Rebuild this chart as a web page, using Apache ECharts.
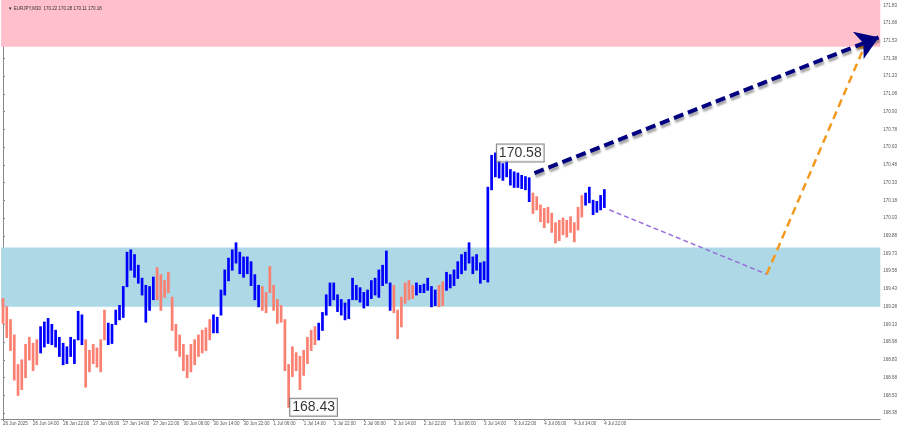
<!DOCTYPE html>
<html><head><meta charset="utf-8">
<script src="https://cdn.jsdelivr.net/npm/echarts@6/dist/echarts.min.js"></script>
<style>html,body{margin:0;padding:0;background:#fff}#c{width:900px;height:430px}</style>
</head><body><div id="c"></div>
<script>
const chartTitle = '\u25BC EURJPY,M30  170.22 170.28 170.11 170.18';
const xLabels = ['26 Jun 2025','26 Jun 14:00','26 Jun 22:00','27 Jun 06:00','27 Jun 14:00','27 Jun 22:00','30 Jun 06:00','30 Jun 14:00','30 Jun 22:00','1 Jul 06:00','1 Jul 14:00','1 Jul 22:00','2 Jul 06:00','2 Jul 14:00','2 Jul 22:00','3 Jul 06:00','3 Jul 14:00','3 Jul 22:00','4 Jul 06:00','4 Jul 14:00','4 Jul 22:00'];
const barsPerLabel = 8;
const yTicks = [168.38,168.53,168.68,168.83,168.98,169.13,169.28,169.43,169.58,169.73,169.88,170.03,170.18,170.33,170.48,170.63,170.78,170.93,171.08,171.23,171.38,171.53,171.68,171.83];
const highs = [169.35,169.28,169.17,169.04,168.79,168.83,168.96,169.02,168.97,169.00,
169.11,169.15,169.18,169.13,169.08,169.02,168.97,168.94,169.02,169.00,
169.24,169.21,169.00,168.91,168.96,168.93,169.00,169.25,169.14,169.13,
169.25,169.29,169.45,169.74,169.76,169.72,169.63,169.52,169.46,169.45,
169.53,169.61,169.55,169.50,169.57,169.36,169.13,169.04,168.96,168.87,
168.96,169.00,169.04,169.08,169.10,169.17,169.21,169.19,169.42,169.59,
169.69,169.76,169.82,169.74,169.70,169.70,169.66,169.55,169.46,169.45,
169.40,169.62,169.46,169.34,169.29,169.17,168.79,168.94,168.89,168.86,
168.91,169.02,169.08,169.11,169.14,169.23,169.38,169.48,169.48,169.38,
169.34,169.31,169.34,169.52,169.46,169.44,169.40,169.42,169.50,169.52,
169.59,169.63,169.75,169.48,169.46,169.25,169.36,169.48,169.50,169.46,
169.48,169.46,169.47,169.52,169.45,169.42,169.46,169.49,169.57,169.55,
169.59,169.66,169.72,169.74,169.82,169.70,169.72,169.65,169.66,170.29,
170.56,170.58,170.52,170.49,170.52,170.44,170.42,170.41,170.39,170.38,
170.37,170.24,170.21,170.14,170.11,170.12,170.07,169.99,170.01,170.03,
170.01,170.04,169.99,170.12,170.22,170.24,170.29,170.18,170.17,170.22,
170.27];
const lows = [169.14,169.02,168.91,168.66,168.53,168.58,168.68,168.83,168.74,168.79,
168.89,168.94,168.97,168.96,168.94,168.86,168.79,168.80,168.86,168.80,
169.00,168.96,168.60,168.73,168.80,168.77,168.73,169.00,168.96,168.97,
169.13,169.17,169.19,169.45,169.59,169.53,169.48,169.38,169.15,169.25,
169.34,169.34,169.25,169.36,169.40,169.08,168.91,168.86,168.74,168.68,
168.73,168.79,168.86,168.89,168.91,169.00,169.06,169.06,169.21,169.38,
169.50,169.59,169.65,169.56,169.53,169.56,169.46,169.34,169.28,169.25,
169.23,169.40,169.25,169.14,169.15,168.74,168.43,168.69,168.74,168.58,
168.70,168.80,168.91,168.96,169.00,169.08,169.21,169.29,169.34,169.24,
169.21,169.17,169.18,169.34,169.34,169.32,169.27,169.29,169.35,169.38,
169.36,169.46,169.48,169.25,169.23,169.01,169.11,169.31,169.34,169.35,
169.38,169.40,169.40,169.42,169.28,169.29,169.28,169.29,169.42,169.44,
169.46,169.52,169.56,169.59,169.65,169.56,169.59,169.48,169.51,169.49,
170.27,170.38,170.37,170.35,170.38,170.31,170.29,170.29,170.28,170.27,
170.17,170.07,170.10,170.00,169.95,169.99,169.91,169.82,169.84,169.89,
169.87,169.91,169.83,169.93,170.04,170.14,170.16,170.06,170.08,170.10,
170.12];
// wave segments: [first bar index, direction]
const waves = [[0,'down'],[10,'up'],[22,'down'],[28,'up'],[41,'down'],[56,'up'],[69,'down'],[84,'up'],[104,'down'],[110,'up'],[116,'down'],[118,'up'],[141,'down'],[155,'up']];
const resistanceZone = [171.48, 171.875];
const supportZone = [169.28, 169.78];
const extremes = [[131, 170.58], [76, 168.43]];
const currentPrice = 170.18;
const mainArrow = [[141.4, 170.41], [233.0, 171.56]];
const pullbackPath = [[161.3, 170.10], [203.2, 169.555]];
const rallyPath = [[203.2, 169.555], [229.7, 171.52]];

const UP = '#0000ff', DOWN = '#fa8072';
function dirAt(k){ let d = 'down'; for (const w of waves) { if (k >= w[0]) d = w[1]; } return d === 'up' ? 1 : 0; }
const barData = highs.map((h, k) => [k, h, lows[k], dirAt(k)]);
const xTickIdx = xLabels.map((_, k) => k * barsPerLabel);
const FONT = 'Liberation Sans';

const chart = echarts.init(document.getElementById('c'), null, {renderer: 'canvas'});
chart.setOption({
  animation: false,
  backgroundColor: '#fff',
  title: {text: chartTitle, left: 3, top: 1, textStyle: {fontSize: 4.5, fontWeight: 'normal', color: '#333', fontFamily: FONT}},
  grid: {left: 0, right: 18, top: 0, bottom: 11, containLabel: false},
  xAxis: {
    type: 'value', min: -0.5, max: 233.4,
    splitLine: {show: false},
    axisLine: {show: true, lineStyle: {color: '#888', width: 1}},
    axisTick: {show: true, customValues: xTickIdx, length: 2, lineStyle: {color: '#888'}},
    axisLabel: {customValues: xTickIdx, formatter: v => xLabels[Math.round(v / barsPerLabel)] || '', align: 'left', fontSize: 4.5, color: '#555', margin: 2, fontFamily: FONT}
  },
  yAxis: {
    type: 'value', position: 'right', min: 168.33, max: 171.875, scale: true,
    splitLine: {show: false},
    axisLine: {show: true, lineStyle: {color: '#888', width: 1}},
    axisTick: {show: true, customValues: yTicks, length: 2, lineStyle: {color: '#888'}},
    axisLabel: {customValues: yTicks, formatter: v => v.toFixed(2), fontSize: 4.5, color: '#555', margin: 3, fontFamily: FONT}
  },
  series: [
    {
      type: 'line', data: [], z: 0, silent: true,
      markArea: {silent: true, data: [
        [{yAxis: resistanceZone[0], itemStyle: {color: '#ffc0cb'}}, {yAxis: resistanceZone[1]}],
        [{yAxis: supportZone[0], itemStyle: {color: '#add8e6'}}, {yAxis: supportZone[1]}]
      ]}
    },
    {
      type: 'custom', z: 3, silent: true,
      data: barData,
      encode: {x: 0, y: [1, 2]},
      renderItem: (params, api) => {
        const i = api.value(0);
        const top = api.coord([i, api.value(1)]);
        const bot = api.coord([i, api.value(2)]);
        return {type: 'line', shape: {x1: top[0], y1: top[1] - 0.5, x2: bot[0], y2: bot[1] + 0.5},
          style: {stroke: api.value(3) === 1 ? UP : DOWN, lineWidth: 2.7}};
      },
      markLine: {
        silent: true, symbol: 'none', animation: false,
        lineStyle: {opacity: 0},
        data: [{yAxis: currentPrice}],
        label: {show: true, position: 'end', distance: 2, formatter: currentPrice.toFixed(2), color: '#fff', backgroundColor: '#3a3a3a', borderColor: '#222', borderWidth: 0.5, padding: [1.5, 1.5], fontSize: 4.5, fontFamily: FONT}
      }
    },
    {
      type: 'lines', coordinateSystem: 'cartesian2d', z: 5, silent: true,
      data: [{coords: pullbackPath}],
      symbol: ['none', 'none'],
      lineStyle: {color: '#9b6fdb', width: 1.5, type: [5, 3], opacity: 1}
    },
    {
      type: 'lines', coordinateSystem: 'cartesian2d', z: 5, silent: true,
      data: [{coords: rallyPath}],
      symbol: ['none', 'arrow'], symbolSize: 10,
      lineStyle: {color: '#f39a1e', width: 2.5, type: [8, 5], opacity: 1}
    },
    {
      type: 'lines', coordinateSystem: 'cartesian2d', z: 6, silent: true,
      data: [{coords: mainArrow}],
      symbol: ['none', 'arrow'], symbolSize: [18, 22],
      lineStyle: {color: '#000080', width: 4, type: [10, 5], opacity: 1, shadowColor: 'rgba(0,0,0,0.35)', shadowBlur: 2, shadowOffsetX: 1, shadowOffsetY: 3}
    },
    {
      type: 'scatter', z: 7, silent: true,
      data: extremes, symbolSize: 1, itemStyle: {color: 'rgba(0,0,0,0)'},
      label: {show: true, position: 'right', distance: 1, formatter: p => p.value[1].toFixed(2), fontSize: 14, color: '#000', backgroundColor: '#fff', borderColor: '#666', borderWidth: 1, padding: [2, 2, 1, 2], fontFamily: FONT}
    }
  ]
});
</script></body></html>
